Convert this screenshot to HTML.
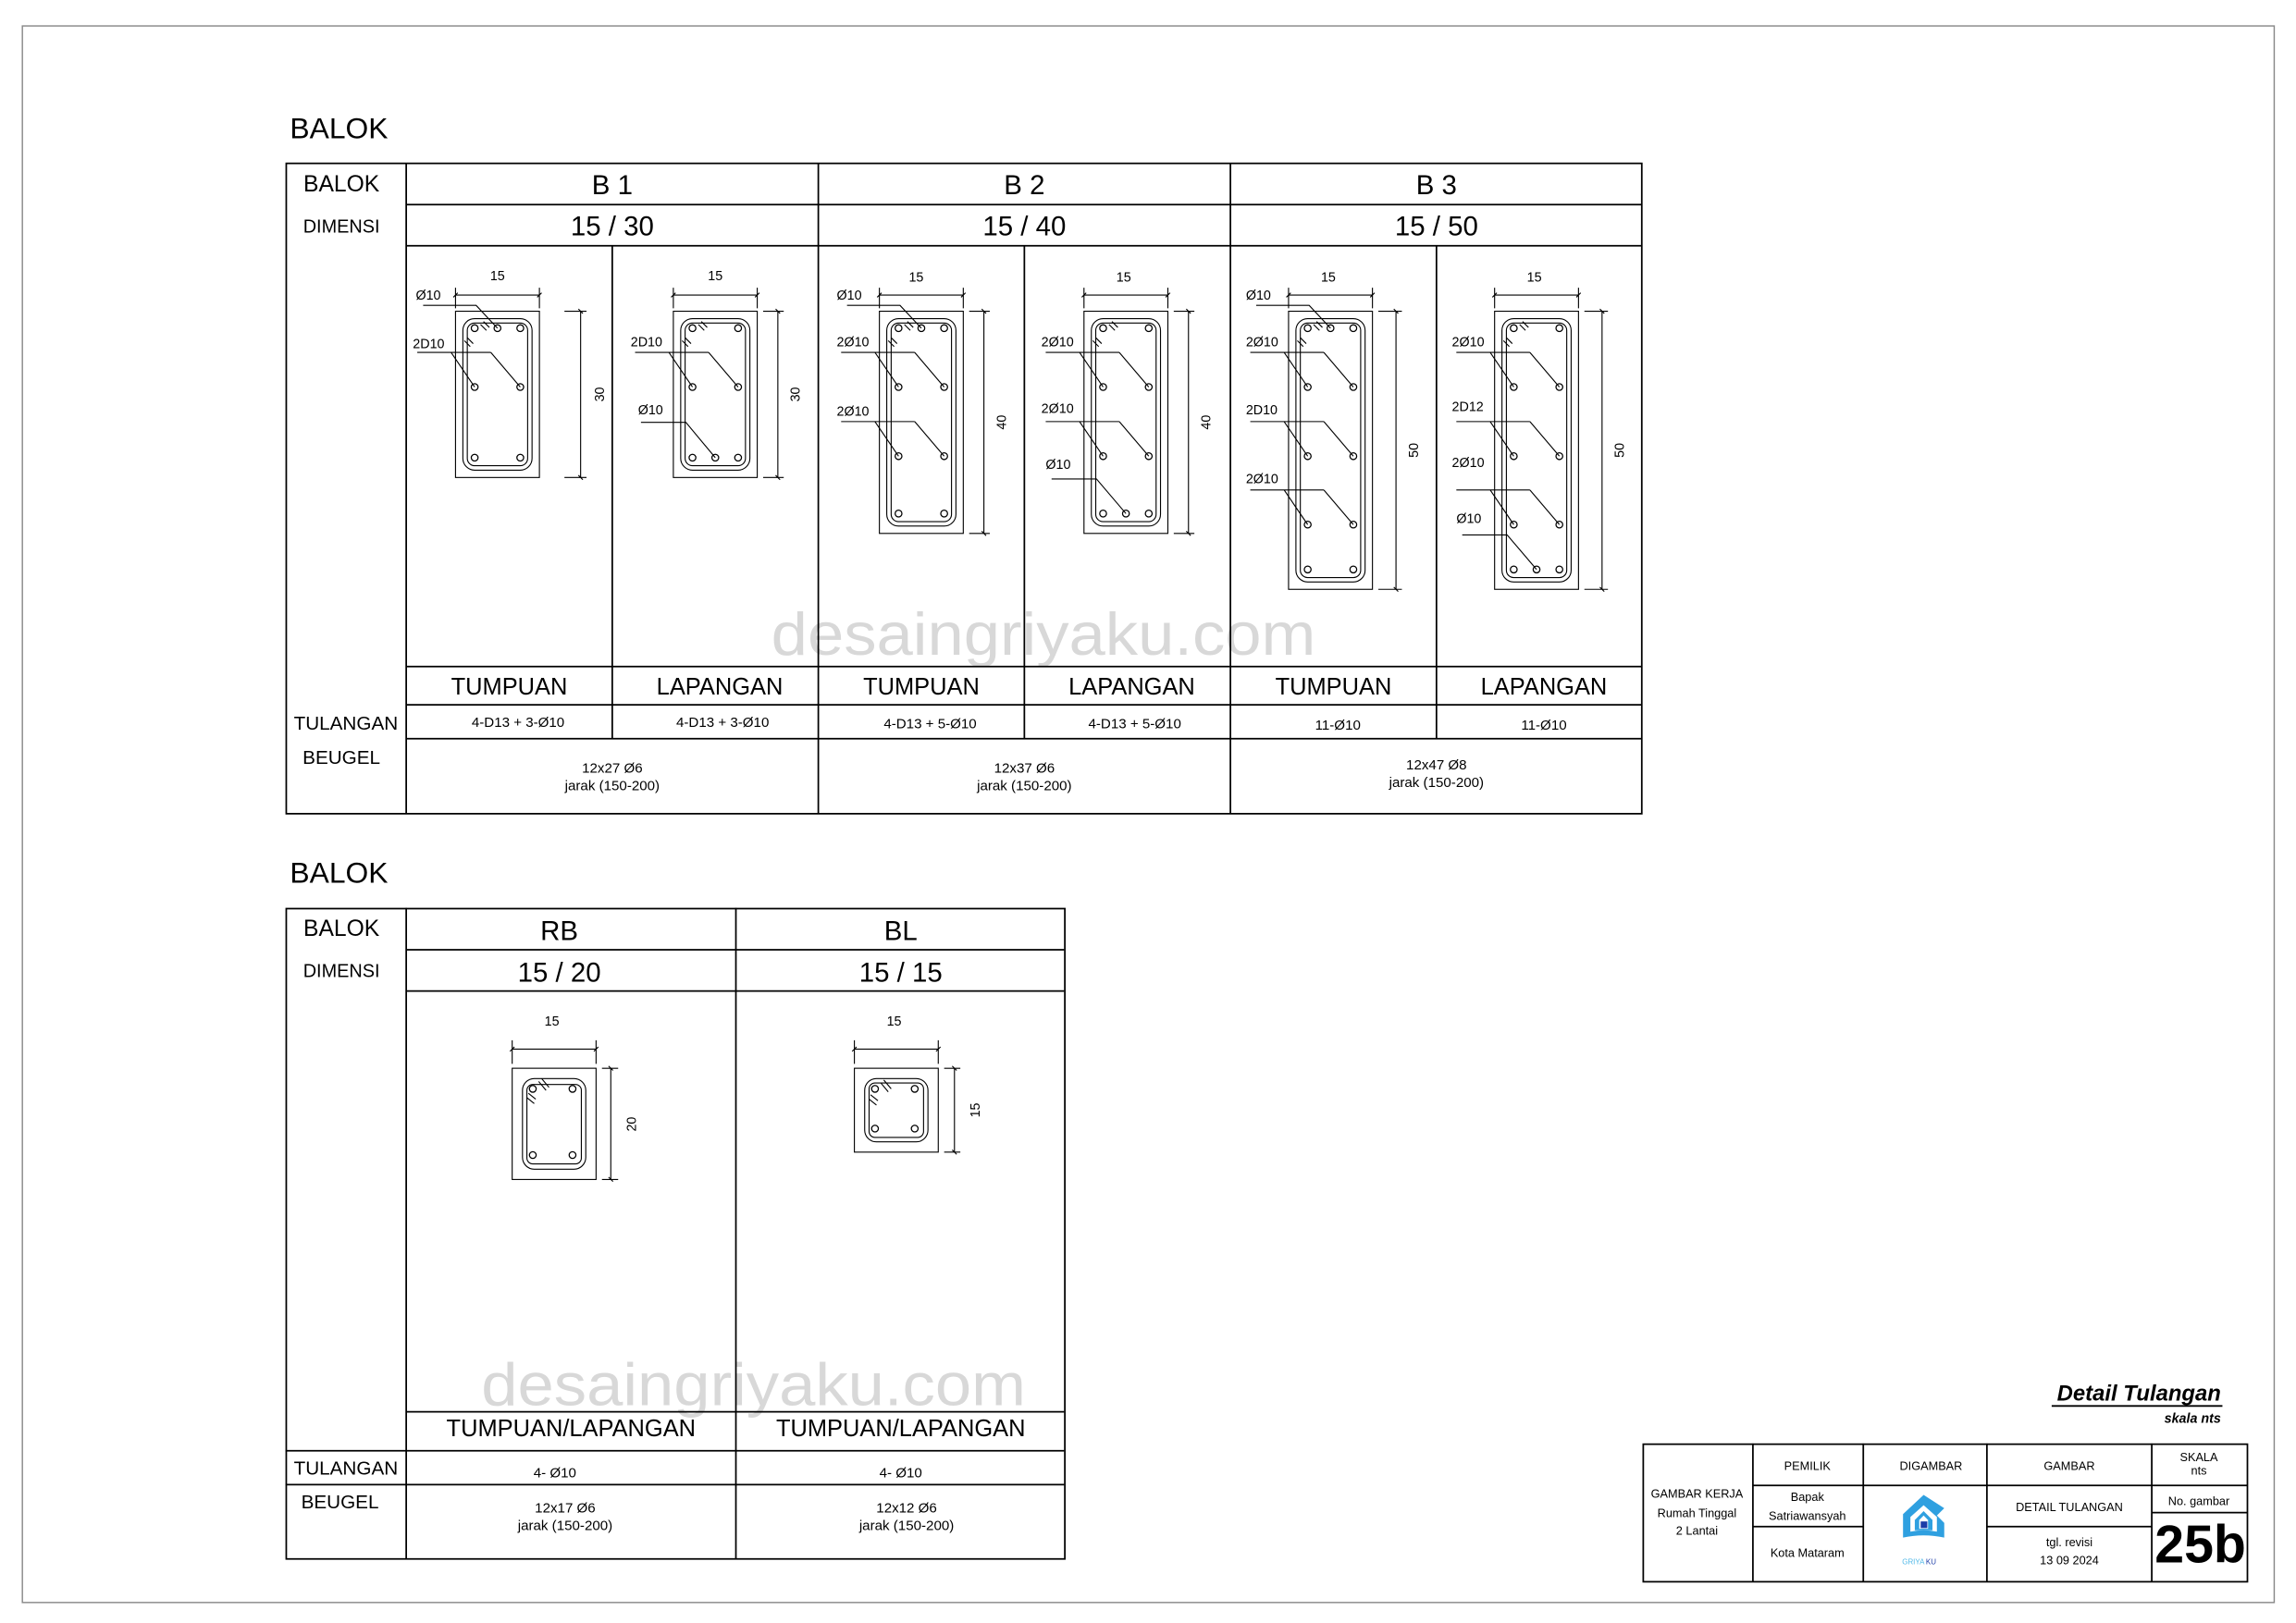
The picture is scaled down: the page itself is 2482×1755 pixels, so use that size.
<!DOCTYPE html>
<html><head><meta charset="utf-8"><style>
html,body{margin:0;padding:0;background:#fff;}
svg{display:block;}
text{font-family:"Liberation Sans",sans-serif;fill:#000;}
.n{font-family:"Liberation Sans Narrow","Liberation Sans",sans-serif;}
.t{stroke:#000;stroke-width:1.1;fill:none;}
.l{stroke:#000;stroke-width:0.7;fill:none;}
.b{stroke:#000;stroke-width:0.8;fill:#fff;}
</style></head><body>
<svg width="2482" height="1755" viewBox="0 0 1560 1103" xmlns="http://www.w3.org/2000/svg">
<rect x="0" y="0" width="1560" height="1103" fill="#fff"/>
<rect x="15.2" y="17.6" width="1530" height="1071.5" fill="none" stroke="#888" stroke-width="0.9"/>

<text x="709" y="445" font-size="41" text-anchor="middle" style="fill:#d8d8d8" textLength="370" lengthAdjust="spacingAndGlyphs">desaingriyaku.com</text>
<text x="512" y="955" font-size="41" text-anchor="middle" style="fill:#d8d8d8" textLength="370" lengthAdjust="spacingAndGlyphs">desaingriyaku.com</text>

<!-- TABLE 1 -->
<text x="197" y="94" font-size="20">BALOK</text>
<g class="t">
<rect x="194.5" y="111" width="921" height="442"/>
<line x1="276" y1="111" x2="276" y2="553"/>
<line x1="556" y1="111" x2="556" y2="553"/>
<line x1="836" y1="111" x2="836" y2="553"/>
<line x1="276" y1="139" x2="1115" y2="139"/>
<line x1="276" y1="167" x2="1115" y2="167"/>
<line x1="276" y1="453" x2="1115" y2="453"/>
<line x1="276" y1="479" x2="1115" y2="479"/>
<line x1="276" y1="502" x2="1115" y2="502"/>
<line x1="416" y1="167" x2="416" y2="502"/>
<line x1="696" y1="167" x2="696" y2="502"/>
<line x1="976" y1="167" x2="976" y2="502"/>
</g>
<g text-anchor="middle">
<text x="232" y="130" font-size="15.5">BALOK</text>
<text x="232" y="158" font-size="12.5">DIMENSI</text>
<text x="235" y="496" font-size="13">TULANGAN</text>
<text x="232" y="519" font-size="13">BEUGEL</text>
<text x="416" y="132" font-size="18.5">B 1</text>
<text x="696" y="132" font-size="18.5">B 2</text>
<text x="976" y="132" font-size="18.5">B 3</text>
<text x="416" y="160" font-size="18.5">15 / 30</text>
<text x="696" y="160" font-size="18.5">15 / 40</text>
<text x="976" y="160" font-size="18.5">15 / 50</text>
<text x="346" y="472" font-size="16">TUMPUAN</text>
<text x="489" y="472" font-size="16">LAPANGAN</text>
<text x="626" y="472" font-size="16">TUMPUAN</text>
<text x="769" y="472" font-size="16">LAPANGAN</text>
<text x="906" y="472" font-size="16">TUMPUAN</text>
<text x="1049" y="472" font-size="16">LAPANGAN</text>
<text x="352" y="494" font-size="9.5">4-D13 + 3-Ø10</text>
<text x="491" y="494" font-size="9.5">4-D13 + 3-Ø10</text>
<text x="632" y="495" font-size="9.5">4-D13 + 5-Ø10</text>
<text x="771" y="495" font-size="9.5">4-D13 + 5-Ø10</text>
<text x="909" y="496" font-size="9.5">11-Ø10</text>
<text x="1049" y="496" font-size="9.5">11-Ø10</text>
<text x="416" y="525" font-size="9.5">12x27 Ø6</text>
<text x="416" y="537" font-size="9.5">jarak (150-200)</text>
<text x="696" y="525" font-size="9.5">12x37 Ø6</text>
<text x="696" y="537" font-size="9.5">jarak (150-200)</text>
<text x="976" y="523" font-size="9.5">12x47 Ø8</text>
<text x="976" y="535" font-size="9.5">jarak (150-200)</text>
</g>

<!-- B1 TUMPUAN -->
<g transform="translate(309.5,211.5)">
<rect class="l" x="0" y="0" width="57" height="113"/>
<rect class="l" x="5" y="5" width="47" height="103" rx="8"/>
<rect class="l" x="8" y="8" width="41" height="97" rx="5"/>
<path class="l" d="M6,20 L10,24 M8,18 L12,22 M17,9 L21,13 M19,7 L23,11"/>
<circle class="b" cx="13" cy="11.5" r="2.3"/><circle class="b" cx="28.5" cy="11.5" r="2.3"/><circle class="b" cx="44" cy="11.5" r="2.3"/>
<circle class="b" cx="13" cy="51.5" r="2.3"/><circle class="b" cx="44" cy="51.5" r="2.3"/>
<circle class="b" cx="13" cy="99.5" r="2.3"/><circle class="b" cx="44" cy="99.5" r="2.3"/>
<path class="l" d="M-22,-4 L14,-4 L28.5,11.5"/><text x="-27" y="-8" font-size="9">Ø10</text>
<path class="l" d="M-26,28 L24,28 M-3,28 L13,51.5 M24,28 L44,51.5"/><text x="-29" y="25" font-size="9">2D10</text>
<path class="l" d="M0,-16 V-2 M57,-16 V-2 M0,-11 H57 M-1.5,-9.5 L1.5,-12.5 M55.5,-9.5 L58.5,-12.5"/>
<text x="28.5" y="-21" font-size="9" text-anchor="middle">15</text>
<path class="l" d="M74,0 H89 M74,113 H89 M85,0 V113 M83.5,-1.5 L86.5,1.5 M83.5,111.5 L86.5,114.5"/>
<text transform="translate(101,56.5) rotate(-90)" font-size="9" text-anchor="middle">30</text>
</g>

<!-- B1 LAPANGAN -->
<g transform="translate(457.5,211.5)">
<rect class="l" x="0" y="0" width="57" height="113"/>
<rect class="l" x="5" y="5" width="47" height="103" rx="8"/>
<rect class="l" x="8" y="8" width="41" height="97" rx="5"/>
<path class="l" d="M6,20 L10,24 M8,18 L12,22 M17,9 L21,13 M19,7 L23,11"/>
<circle class="b" cx="13" cy="11.5" r="2.3"/><circle class="b" cx="44" cy="11.5" r="2.3"/>
<circle class="b" cx="13" cy="51.5" r="2.3"/><circle class="b" cx="44" cy="51.5" r="2.3"/>
<circle class="b" cx="13" cy="99.5" r="2.3"/><circle class="b" cx="28.5" cy="99.5" r="2.3"/><circle class="b" cx="44" cy="99.5" r="2.3"/>
<path class="l" d="M-26,28 L24,28 M-3,28 L13,51.5 M24,28 L44,51.5"/><text x="-29" y="24" font-size="9">2D10</text>
<path class="l" d="M-22,75.5 L8.5,75.5 L28.5,99.5"/><text x="-24" y="70" font-size="9">Ø10</text>
<path class="l" d="M0,-16 V-2 M57,-16 V-2 M0,-11 H57 M-1.5,-9.5 L1.5,-12.5 M55.5,-9.5 L58.5,-12.5"/>
<text x="28.5" y="-21" font-size="9" text-anchor="middle">15</text>
<path class="l" d="M61,0 H75 M61,113 H75 M71,0 V113 M69.5,-1.5 L72.5,1.5 M69.5,111.5 L72.5,114.5"/>
<text transform="translate(86,56.5) rotate(-90)" font-size="9" text-anchor="middle">30</text>
</g>

<!-- B2 TUMPUAN -->
<g transform="translate(597.5,211.5)">
<rect class="l" x="0" y="0" width="57" height="151"/>
<rect class="l" x="5" y="5" width="47" height="141" rx="8"/>
<rect class="l" x="8" y="8" width="41" height="135" rx="5"/>
<path class="l" d="M6,20 L10,24 M8,18 L12,22 M17,9 L21,13 M19,7 L23,11"/>
<circle class="b" cx="13" cy="11.5" r="2.3"/><circle class="b" cx="28.5" cy="11.5" r="2.3"/><circle class="b" cx="44" cy="11.5" r="2.3"/>
<circle class="b" cx="13" cy="51.5" r="2.3"/><circle class="b" cx="44" cy="51.5" r="2.3"/>
<circle class="b" cx="13" cy="98.5" r="2.3"/><circle class="b" cx="44" cy="98.5" r="2.3"/>
<circle class="b" cx="13" cy="137.5" r="2.3"/><circle class="b" cx="44" cy="137.5" r="2.3"/>
<path class="l" d="M-22,-4 L14,-4 L28.5,11.5"/><text x="-29" y="-8" font-size="9">Ø10</text>
<path class="l" d="M-26,28 L24,28 M-3,28 L13,51.5 M24,28 L44,51.5"/><text x="-29" y="24" font-size="9">2Ø10</text>
<path class="l" d="M-26,75 L24,75 M-3,75 L13,98.5 M24,75 L44,98.5"/><text x="-29" y="71" font-size="9">2Ø10</text>
<path class="l" d="M0,-16 V-2 M57,-16 V-2 M0,-11 H57 M-1.5,-9.5 L1.5,-12.5 M55.5,-9.5 L58.5,-12.5"/>
<text x="25" y="-20" font-size="9" text-anchor="middle">15</text>
<path class="l" d="M61,0 H75 M61,151 H75 M71,0 V151 M69.5,-1.5 L72.5,1.5 M69.5,149.5 L72.5,152.5"/>
<text transform="translate(86,75.5) rotate(-90)" font-size="9" text-anchor="middle">40</text>
</g>

<!-- B2 LAPANGAN -->
<g transform="translate(736.5,211.5)">
<rect class="l" x="0" y="0" width="57" height="151"/>
<rect class="l" x="5" y="5" width="47" height="141" rx="8"/>
<rect class="l" x="8" y="8" width="41" height="135" rx="5"/>
<path class="l" d="M6,20 L10,24 M8,18 L12,22 M17,9 L21,13 M19,7 L23,11"/>
<circle class="b" cx="13" cy="11.5" r="2.3"/><circle class="b" cx="44" cy="11.5" r="2.3"/>
<circle class="b" cx="13" cy="51.5" r="2.3"/><circle class="b" cx="44" cy="51.5" r="2.3"/>
<circle class="b" cx="13" cy="98.5" r="2.3"/><circle class="b" cx="44" cy="98.5" r="2.3"/>
<circle class="b" cx="13" cy="137.5" r="2.3"/><circle class="b" cx="28.5" cy="137.5" r="2.3"/><circle class="b" cx="44" cy="137.5" r="2.3"/>
<path class="l" d="M-26,28 L24,28 M-3,28 L13,51.5 M24,28 L44,51.5"/><text x="-29" y="24" font-size="9">2Ø10</text>
<path class="l" d="M-26,75 L24,75 M-3,75 L13,98.5 M24,75 L44,98.5"/><text x="-29" y="69" font-size="9">2Ø10</text>
<path class="l" d="M-22,114 L8.5,114 L28.5,137.5"/><text x="-26" y="107" font-size="9">Ø10</text>
<path class="l" d="M0,-16 V-2 M57,-16 V-2 M0,-11 H57 M-1.5,-9.5 L1.5,-12.5 M55.5,-9.5 L58.5,-12.5"/>
<text x="27" y="-20" font-size="9" text-anchor="middle">15</text>
<path class="l" d="M61,0 H75 M61,151 H75 M71,0 V151 M69.5,-1.5 L72.5,1.5 M69.5,149.5 L72.5,152.5"/>
<text transform="translate(86,75.5) rotate(-90)" font-size="9" text-anchor="middle">40</text>
</g>

<!-- B3 TUMPUAN -->
<g transform="translate(875.5,211.5)">
<rect class="l" x="0" y="0" width="57" height="189"/>
<rect class="l" x="5" y="5" width="47" height="179" rx="8"/>
<rect class="l" x="8" y="8" width="41" height="173" rx="5"/>
<path class="l" d="M6,20 L10,24 M8,18 L12,22 M17,9 L21,13 M19,7 L23,11"/>
<circle class="b" cx="13" cy="11.5" r="2.3"/><circle class="b" cx="28.5" cy="11.5" r="2.3"/><circle class="b" cx="44" cy="11.5" r="2.3"/>
<circle class="b" cx="13" cy="51.5" r="2.3"/><circle class="b" cx="44" cy="51.5" r="2.3"/>
<circle class="b" cx="13" cy="98.5" r="2.3"/><circle class="b" cx="44" cy="98.5" r="2.3"/>
<circle class="b" cx="13" cy="145" r="2.3"/><circle class="b" cx="44" cy="145" r="2.3"/>
<circle class="b" cx="13" cy="175.5" r="2.3"/><circle class="b" cx="44" cy="175.5" r="2.3"/>
<path class="l" d="M-22,-4 L14,-4 L28.5,11.5"/><text x="-29" y="-8" font-size="9">Ø10</text>
<path class="l" d="M-26,28 L24,28 M-3,28 L13,51.5 M24,28 L44,51.5"/><text x="-29" y="24" font-size="9">2Ø10</text>
<path class="l" d="M-26,75 L24,75 M-3,75 L13,98.5 M24,75 L44,98.5"/><text x="-29" y="70" font-size="9">2D10</text>
<path class="l" d="M-26,121.5 L24,121.5 M-3,121.5 L13,145 M24,121.5 L44,145"/><text x="-29" y="117" font-size="9">2Ø10</text>
<path class="l" d="M0,-16 V-2 M57,-16 V-2 M0,-11 H57 M-1.5,-9.5 L1.5,-12.5 M55.5,-9.5 L58.5,-12.5"/>
<text x="27" y="-20" font-size="9" text-anchor="middle">15</text>
<path class="l" d="M61,0 H77 M61,189 H77 M73,0 V189 M71.5,-1.5 L74.5,1.5 M71.5,187.5 L74.5,190.5"/>
<text transform="translate(88,94.5) rotate(-90)" font-size="9" text-anchor="middle">50</text>
</g>

<!-- B3 LAPANGAN -->
<g transform="translate(1015.5,211.5)">
<rect class="l" x="0" y="0" width="57" height="189"/>
<rect class="l" x="5" y="5" width="47" height="179" rx="8"/>
<rect class="l" x="8" y="8" width="41" height="173" rx="5"/>
<path class="l" d="M6,20 L10,24 M8,18 L12,22 M17,9 L21,13 M19,7 L23,11"/>
<circle class="b" cx="13" cy="11.5" r="2.3"/><circle class="b" cx="44" cy="11.5" r="2.3"/>
<circle class="b" cx="13" cy="51.5" r="2.3"/><circle class="b" cx="44" cy="51.5" r="2.3"/>
<circle class="b" cx="13" cy="98.5" r="2.3"/><circle class="b" cx="44" cy="98.5" r="2.3"/>
<circle class="b" cx="13" cy="145" r="2.3"/><circle class="b" cx="44" cy="145" r="2.3"/>
<circle class="b" cx="13" cy="175.5" r="2.3"/><circle class="b" cx="28.5" cy="175.5" r="2.3"/><circle class="b" cx="44" cy="175.5" r="2.3"/>
<path class="l" d="M-26,28 L24,28 M-3,28 L13,51.5 M24,28 L44,51.5"/><text x="-29" y="24" font-size="9">2Ø10</text>
<path class="l" d="M-26,75 L24,75 M-3,75 L13,98.5 M24,75 L44,98.5"/><text x="-29" y="68" font-size="9">2D12</text>
<path class="l" d="M-26,121.5 L24,121.5 M-3,121.5 L13,145 M24,121.5 L44,145"/><text x="-29" y="106" font-size="9">2Ø10</text>
<path class="l" d="M-22,152 L8.5,152 L28.5,175.5"/><text x="-26" y="144" font-size="9">Ø10</text>
<path class="l" d="M0,-16 V-2 M57,-16 V-2 M0,-11 H57 M-1.5,-9.5 L1.5,-12.5 M55.5,-9.5 L58.5,-12.5"/>
<text x="27" y="-20" font-size="9" text-anchor="middle">15</text>
<path class="l" d="M61,0 H77 M61,189 H77 M73,0 V189 M71.5,-1.5 L74.5,1.5 M71.5,187.5 L74.5,190.5"/>
<text transform="translate(88,94.5) rotate(-90)" font-size="9" text-anchor="middle">50</text>
</g>

<!-- TABLE 2 -->
<text x="197" y="600" font-size="20">BALOK</text>
<g class="t">
<rect x="194.5" y="617.5" width="529" height="442"/>
<line x1="276" y1="617" x2="276" y2="1059"/>
<line x1="500" y1="617" x2="500" y2="1059"/>
<line x1="276" y1="645.5" x2="723" y2="645.5"/>
<line x1="276" y1="673.5" x2="723" y2="673.5"/>
<line x1="276" y1="959.5" x2="723" y2="959.5"/>
<line x1="194" y1="986" x2="723" y2="986"/>
<line x1="194" y1="1009" x2="723" y2="1009"/>
</g>
<g text-anchor="middle">
<text x="232" y="636" font-size="15.5">BALOK</text>
<text x="232" y="664" font-size="12.5">DIMENSI</text>
<text x="235" y="1002" font-size="13">TULANGAN</text>
<text x="231" y="1025" font-size="13">BEUGEL</text>
<text x="380" y="639" font-size="18.5">RB</text>
<text x="612" y="639" font-size="18.5">BL</text>
<text x="380" y="667" font-size="18.5">15 / 20</text>
<text x="612" y="667" font-size="18.5">15 / 15</text>
<text x="388" y="976" font-size="16">TUMPUAN/LAPANGAN</text>
<text x="612" y="976" font-size="16">TUMPUAN/LAPANGAN</text>
<text x="377" y="1004" font-size="9.5">4- Ø10</text>
<text x="612" y="1004" font-size="9.5">4- Ø10</text>
<text x="384" y="1028" font-size="9.5">12x17  Ø6</text>
<text x="384" y="1040" font-size="9.5">jarak (150-200)</text>
<text x="616" y="1028" font-size="9.5">12x12  Ø6</text>
<text x="616" y="1040" font-size="9.5">jarak (150-200)</text>
</g>

<!-- RB -->
<g transform="translate(348,726)">
<rect class="l" x="0" y="0" width="57" height="75.6"/>
<rect class="l" x="7" y="7" width="43" height="61.6" rx="8"/>
<rect class="l" x="10" y="11" width="37" height="54" rx="4"/>
<path class="l" d="M10,20 L15,24 M11,17 L16,21 M18,9 L23,15 M20,7 L25,13"/>
<circle class="b" cx="14" cy="14" r="2.3"/><circle class="b" cx="41" cy="14" r="2.3"/>
<circle class="b" cx="14" cy="59" r="2.3"/><circle class="b" cx="41" cy="59" r="2.3"/>
<path class="l" d="M0,-19 V-3 M57,-19 V-3 M0,-13 H57 M-1.5,-11.5 L1.5,-14.5 M55.5,-11.5 L58.5,-14.5"/>
<text x="27" y="-29" font-size="9" text-anchor="middle">15</text>
<path class="l" d="M61,0 H72 M61,75.6 H72 M67,0 V75.6 M65.5,-1.5 L68.5,1.5 M65.5,74 L68.5,77"/>
<text transform="translate(84,38) rotate(-90)" font-size="9" text-anchor="middle">20</text>
</g>

<!-- BL -->
<g transform="translate(580.5,726)">
<rect class="l" x="0" y="0" width="57" height="57"/>
<rect class="l" x="7" y="7" width="43" height="43" rx="8"/>
<rect class="l" x="10" y="10" width="37" height="37" rx="4"/>
<path class="l" d="M10,21 L15,25 M11,18 L16,22 M18,10 L23,16 M20,8 L25,14"/>
<circle class="b" cx="14" cy="14" r="2.3"/><circle class="b" cx="41" cy="14" r="2.3"/>
<circle class="b" cx="14" cy="41" r="2.3"/><circle class="b" cx="41" cy="41" r="2.3"/>
<path class="l" d="M0,-19 V-3 M57,-19 V-3 M0,-13 H57 M-1.5,-11.5 L1.5,-14.5 M55.5,-11.5 L58.5,-14.5"/>
<text x="27" y="-29" font-size="9" text-anchor="middle">15</text>
<path class="l" d="M61,0 H72 M61,57 H72 M68,0 V57 M66.5,-1.5 L69.5,1.5 M66.5,55.5 L69.5,58.5"/>
<text transform="translate(85,28.5) rotate(-90)" font-size="9" text-anchor="middle">15</text>
</g>

<!-- Detail title -->
<text x="1509" y="952" font-size="15" font-weight="bold" font-style="italic" text-anchor="end">Detail Tulangan</text>
<line x1="1394" y1="955.5" x2="1510" y2="955.5" stroke="#000" stroke-width="1.2"/>
<text x="1509" y="967" font-size="9" font-weight="bold" font-style="italic" text-anchor="end">skala nts</text>

<!-- TITLE BLOCK -->
<g class="t">
<rect x="1116.5" y="981.5" width="410.5" height="93.5"/>
<line x1="1191" y1="981" x2="1191" y2="1075"/>
<line x1="1266" y1="981" x2="1266" y2="1075"/>
<line x1="1350" y1="981" x2="1350" y2="1075"/>
<line x1="1462" y1="981" x2="1462" y2="1075"/>
<line x1="1191" y1="1009.5" x2="1527" y2="1009.5"/>
<line x1="1191" y1="1037.5" x2="1266" y2="1037.5"/>
<line x1="1350" y1="1037.5" x2="1462" y2="1037.5"/>
<line x1="1462" y1="1028" x2="1527" y2="1028"/>
</g>
<g text-anchor="middle" font-size="8">
<text x="1153" y="1018">GAMBAR KERJA</text>
<text x="1153" y="1031">Rumah Tinggal</text>
<text x="1153" y="1043">2 Lantai</text>
<text x="1228" y="999">PEMILIK</text>
<text x="1312" y="999">DIGAMBAR</text>
<text x="1406" y="999">GAMBAR</text>
<text x="1494" y="993">SKALA</text>
<text x="1494" y="1002">nts</text>
<text x="1228" y="1020">Bapak</text>
<text x="1228" y="1033">Satriawansyah</text>
<text x="1228" y="1058">Kota Mataram</text>
<text x="1406" y="1027">DETAIL TULANGAN</text>
<text x="1406" y="1051">tgl. revisi</text>
<text x="1406" y="1063">13 09 2024</text>
<text x="1494" y="1023">No. gambar</text>
<text x="1495" y="1062" font-size="36" font-weight="bold" class="n">25b</text>
</g>
<g>
<path d="M1307,1016 L1293,1029 L1293,1045 Q1307,1042 1321,1045 L1321,1035 L1316,1030 L1321,1025 Z" fill="#2fa0e0"/>
<path d="M1307,1023 L1298,1031 L1298,1041 Q1307,1039 1316,1041 L1316,1031 Z" fill="#fff"/>
<path d="M1307,1027 L1301,1033 L1301,1040 L1313,1040 L1313,1033 Z" fill="#2fa0e0"/>
<path d="M1307,1030 L1304,1033 L1304,1039 L1310,1039 L1310,1033 Z" fill="#fff"/>
<rect x="1305" y="1034" width="4.5" height="4.5" fill="#1d3da8"/>
<text x="1300" y="1063" font-size="5" style="fill:#4fb8e8" text-anchor="middle">GRIYA</text>
<text x="1312" y="1063" font-size="5" style="fill:#1d3da8" text-anchor="middle">KU</text>
</g>
</svg>
</body></html>
